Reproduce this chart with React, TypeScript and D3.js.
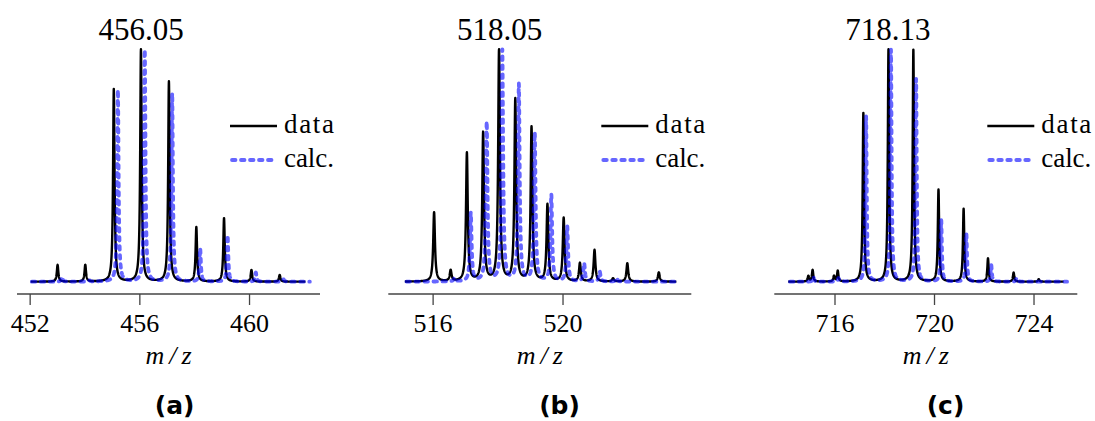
import React from "react";
import * as d3 from "d3";

// ---- data ----
const titles = ["456.05", "518.05", "718.13"];
const titleMz = [456.05, 518.05, 718.13];
const panelLabels = ["(a)", "(b)", "(c)"];
const xDomains: [number, number][] = [
  [451.52, 462.57],
  [514.62, 523.95],
  [713.56, 725.74],
];
const tickValues = [
  [452, 456, 460],
  [516, 520],
  [716, 720, 724],
];
const dataRanges: [number, number][] = [
  [452.02, 462.04],
  [515.13, 523.49],
  [714.12, 725.19],
];
const calcRanges: [number, number][] = [
  [452.06, 462.2],
  [515.18, 523.54],
  [714.19, 725.33],
];

const dataMzA = [453.0, 454.01, 455.05, 456.04, 457.06, 458.06, 459.07, 460.07, 461.1];
const dataIntA = [7.2, 7.2, 82.8, 100, 86.1, 23.4, 27.3, 5.0, 2.9];
const calcMzA = [453.16, 454.16, 455.2, 456.18, 457.18, 458.2, 459.2, 460.23, 461.24];
const calcIntA = [2, 0.5, 82.5, 99.7, 81, 14.3, 20, 3.9, 1];

const dataMzB = [516.03, 516.54, 517.04, 517.54, 518.03, 518.53, 519.03, 519.52, 520.02, 520.52, 520.97, 521.54, 521.98, 522.95];
const dataIntB = [29.8, 4.7, 55.2, 63.8, 100, 78.2, 66.3, 33, 27.3, 7.9, 13.6, 1.4, 7.9, 4];
const calcMzB = [516.66, 517.16, 517.65, 518.13, 518.64, 519.13, 519.64, 520.13, 520.65, 521.13, 521.65];
const calcIntB = [1.5, 29.4, 68.4, 100, 84.6, 63.8, 37.3, 23.7, 7.9, 4.3, 1.5];

const dataMzC = [714.93, 715.1, 715.96, 716.11, 717.14, 718.15, 719.15, 720.16, 721.17, 722.15, 723.18, 724.19];
const dataIntC = [2.4, 5, 2.4, 4.6, 72.5, 100, 99.7, 39.5, 31.3, 10, 3.9, 1.1];
const calcMzC = [715.13, 716.14, 717.25, 718.25, 719.26, 720.27, 721.28, 722.28, 723.3];
const calcIntC = [2, 1.5, 71, 99.7, 87.1, 26.5, 20.8, 7.2, 1.5];

const dataMz = [dataMzA, dataMzB, dataMzC];
const dataInt = [dataIntA, dataIntB, dataIntC];
const calcMz = [calcMzA, calcMzB, calcMzC];
const calcInt = [calcIntA, calcIntB, calcIntC];

const legendLabels = ["data", "calc."];

// ---- layout ----
const axisLefts = [17, 388.3, 774.3];
const axisWidth = 303;
const axisY = 294;
const baseY = 281.7;
const topY = 49.3;
const subCenters = [174.6, 559.5, 945.5];

const css = `
  .rs-serif { font-family: "Liberation Serif", "Times New Roman", Tinos, serif; }
  .rs-italic { font-family: "Liberation Serif", "Times New Roman", Tinos, serif; font-style: italic; }
  .rs-sans { font-family: "DejaVu Sans", sans-serif; font-weight: bold; }
`;

function profile(mzs: number[], ints: number[], range: [number, number], gamma: number) {
  const xs = d3.range(range[0], range[1], 0.004).concat(mzs.filter((m) => m > range[0] && m < range[1]), [range[1]]);
  xs.sort((a, b) => a - b);
  return xs.map((x) => {
    let s = 0;
    for (let i = 0; i < mzs.length; i++) {
      const u = (x - mzs[i]) / gamma;
      s += ints[i] / (1 + u * u);
    }
    return [x, s] as [number, number];
  });
}

function Panel({ i }: { i: number }) {
  const x = d3.scaleLinear().domain(xDomains[i]).range([axisLefts[i], axisLefts[i] + axisWidth]);
  const y = d3.scaleLinear().domain([0, 100]).range([baseY, topY]);
  const line = d3
    .line<[number, number]>()
    .x((d) => x(d[0]))
    .y((d) => y(Math.min(d[1], 100)));
  const dataPts = profile(dataMz[i], dataInt[i], dataRanges[i], 0.032);
  const calcPts = profile(calcMz[i], calcInt[i], calcRanges[i], 0.03);
  const lx = axisLefts[i] + 213;
  return (
    <g>
      <path d={line(dataPts) || ""} fill="none" stroke="#000" strokeWidth={2.4} strokeLinejoin="round" />
      <path
        d={line(calcPts) || ""}
        fill="none"
        stroke="#0000ff"
        strokeOpacity={0.6}
        strokeWidth={3.8}
        strokeDasharray="3.5 5.5"
        strokeLinecap="round"
        strokeLinejoin="round"
      />
      {/* axis */}
      <line x1={x.range()[0]} x2={x.range()[1]} y1={axisY} y2={axisY} stroke="#444" strokeWidth={1.3} />
      {tickValues[i].map((t) => (
        <g key={t}>
          <line x1={x(t)} x2={x(t)} y1={axisY} y2={axisY + 11} stroke="#444" strokeWidth={1.3} />
          <text className="rs-serif" x={x(t)} y={332} textAnchor="middle" fontSize={26} fill="#000">
            {t}
          </text>
        </g>
      ))}
      <text
        className="rs-italic"
        x={(x.range()[0] + x.range()[1]) / 2}
        y={364}
        textAnchor="middle"
        fontSize={26}
        textLength={46}
        lengthAdjust="spacing"
        fill="#000"
      >
        m/z
      </text>
      <text className="rs-serif" x={x(titleMz[i])} y={40} textAnchor="middle" fontSize={31} fill="#000">
        {titles[i]}
      </text>
      {/* legend */}
      <line x1={lx} x2={lx + 47} y1={126} y2={126} stroke="#000" strokeWidth={2.4} />
      <text className="rs-serif" x={lx + 54} y={133} fontSize={27} textLength={50} lengthAdjust="spacing" fill="#000">
        {legendLabels[0]}
      </text>
      <line
        x1={lx + 2}
        x2={lx + 46}
        y1={160}
        y2={160}
        stroke="#0000ff"
        strokeOpacity={0.6}
        strokeWidth={3.8}
        strokeDasharray="3.5 5.5"
        strokeLinecap="round"
      />
      <text className="rs-serif" x={lx + 54} y={167} fontSize={27} textLength={50} lengthAdjust="spacing" fill="#000">
        {legendLabels[1]}
      </text>
      <text className="rs-sans" x={subCenters[i]} y={414} textAnchor="middle" fontSize={25} fill="#000">
        {panelLabels[i]}
      </text>
    </g>
  );
}

export default function App() {
  return (
    <svg
      width={1095}
      height={421}
      style={{ position: "absolute", left: 0, top: 0, background: "#fff", fontFamily: "Liberation Serif" }}
    >
      <style>{css}</style>
      {[0, 1, 2].map((i) => (
        <Panel key={i} i={i} />
      ))}
    </svg>
  );
}
